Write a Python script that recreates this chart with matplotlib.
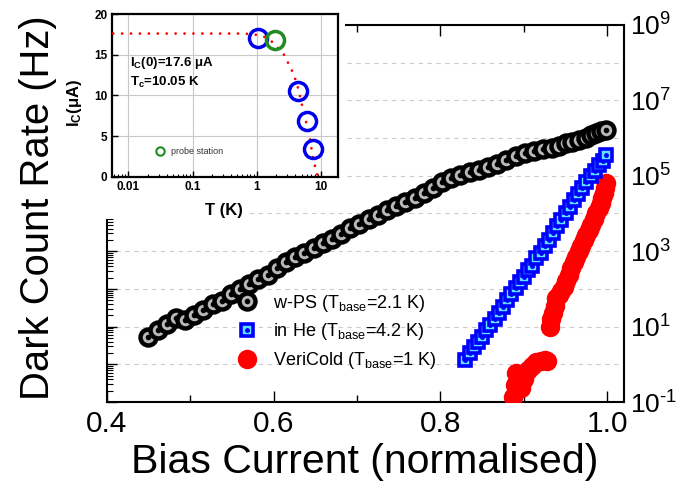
import numpy as np
import matplotlib
matplotlib.use('Agg')
import matplotlib.pyplot as plt
from matplotlib.ticker import FixedLocator, FuncFormatter, LogLocator, NullFormatter
from matplotlib.lines import Line2D
from matplotlib.legend_handler import HandlerTuple
from matplotlib.patches import Rectangle

plt.rcParams['font.family'] = ['Liberation Sans', 'DejaVu Sans']
plt.rcParams['mathtext.fontset'] = 'custom'
plt.rcParams['mathtext.rm'] = 'Liberation Sans'
plt.rcParams['mathtext.it'] = 'Liberation Sans:italic'
plt.rcParams['mathtext.bf'] = 'Liberation Sans:bold'
plt.rcParams['mathtext.default'] = 'regular'

# ---------------- data (main panel) ----------------
bias_wps = [0.450, 0.461, 0.472, 0.483, 0.494, 0.505, 0.516, 0.527, 0.538, 0.549,
            0.560, 0.571, 0.582, 0.593, 0.604, 0.615, 0.626, 0.637, 0.648, 0.659,
            0.670, 0.681, 0.692, 0.703, 0.714, 0.725, 0.736, 0.747, 0.758, 0.769,
            0.780, 0.791, 0.802, 0.813, 0.824, 0.835, 0.846, 0.857, 0.868, 0.879,
            0.890, 0.901, 0.912, 0.923, 0.934, 0.942, 0.950, 0.958, 0.966, 0.974,
            0.981, 0.987, 0.993, 0.998]
rate_wps = [5.2, 8.3, 12, 16.6, 15.1, 20, 28, 40, 48, 74,
            100, 135, 182, 240, 355, 525, 690, 890, 1200, 1620,
            2090, 2820, 4070, 5370, 7080, 9330, 1.23e4, 1.62e4, 2.04e4, 2.63e4,
            3.47e4, 4.79e4, 6.76e4, 8.51e4, 1.05e5, 1.23e5, 1.41e5, 1.70e5, 2.09e5, 2.63e5,
            3.31e5, 3.98e5, 4.57e5, 5.01e5, 5.50e5, 6.31e5, 7.24e5, 7.94e5, 8.71e5, 1.0e6,
            1.20e6, 1.38e6, 1.51e6, 1.62e6]

bias_he = [0.830, 0.835, 0.840, 0.845, 0.850, 0.855, 0.860, 0.865, 0.870, 0.875,
           0.880, 0.885, 0.890, 0.895, 0.900, 0.905, 0.910, 0.915, 0.920, 0.925,
           0.930, 0.935, 0.940, 0.945, 0.950, 0.955, 0.960, 0.965, 0.970, 0.975,
           0.980, 0.985, 0.990, 0.995, 0.998]
rate_he = [1.29, 2.0, 2.95, 3.98, 5.37, 7.94, 11.0, 15.8, 22.4, 33.1,
           51.3, 72.4, 105, 148, 209, 316, 417, 661, 912, 1380,
           2000, 2950, 4570, 6610, 1.0e4, 1.51e4, 2.29e4, 3.31e4, 4.79e4, 6.92e4,
           1.0e5, 1.32e5, 1.95e5, 2.51e5, 3.55e5]

bias_vc = [0.887, 0.889, 0.890, 0.893, 0.896, 0.900, 0.905, 0.910, 0.915, 0.920,
           0.925, 0.928, 0.931, 0.933, 0.935, 0.937, 0.939, 0.942, 0.945, 0.948,
           0.951, 0.954, 0.957, 0.960, 0.963, 0.966, 0.969, 0.972, 0.975, 0.978,
           0.981, 0.984, 0.987, 0.990, 0.992, 0.994, 0.996, 0.997, 0.998]
rate_vc = [0.138, 0.282, 0.603, 0.355, 0.24, 0.398, 0.708, 0.891, 1.12, 1.26,
           1.32, 1.20, 10, 15.8, 22.4, 35.5, 56.2, 70.8, 89.1, 112,
           158, 240, 355, 525, 708, 1000, 1410, 2000, 2630, 3550,
           5010, 7080, 1.0e4, 1.41e4, 1.91e4, 2.63e4, 3.55e4, 4.79e4, 6.31e4]

labels_main = ['w-PS (T$_{base}$=2.1 K)', 'in He (T$_{base}$=4.2 K)', 'VeriCold (T$_{base}$=1 K)']
xtick_vals = [0.4, 0.6, 0.8, 1.0]
xminor_vals = [0.5, 0.7, 0.9]
ytick_exps = list(range(-1, 10))

# ---------------- data (inset) ----------------
T_blue = [1.05, 4.47, 6.03, 7.5]
Ic_blue = [17.1, 10.5, 6.8, 3.4]
T_green = [1.93]
Ic_green = [16.8]
T_fit = [0.0058, 0.03, 0.1, 0.3, 0.6, 0.9, 1.2, 1.5, 1.78, 2.58, 3.52, 4.22, 4.75,
         5.29, 6.11, 6.8, 7.6, 8.85]
Ic_fit = [17.6, 17.6, 17.6, 17.6, 17.6, 17.5, 17.3, 17.0, 16.5, 15.2, 13.1, 11.5, 9.85,
          8.2, 6.2, 4.5, 2.1, 0.2]
inset_xticks = [0.01, 0.1, 1, 10]
inset_xticklabels = ['0.01', '0.1', '1', '10']
inset_yticks = [0, 5, 10, 15, 20]

W, H = 678, 488
fig = plt.figure(figsize=(W / 100, H / 100), dpi=100)

def fx(px):
    return px / W

def fy(py):
    return 1 - py / H

# ---------------- main axes ----------------
L, R, T, B = 106.6, 624, 25, 402
ax = fig.add_axes([fx(L), fy(B), (R - L) / W, (B - T) / H], zorder=0)
ax.set_yscale('log')
ax.set_xlim(0.4, 1.02)
ax.set_ylim(1e-1, 1e9)

ax.yaxis.set_major_locator(FixedLocator([10.0 ** e for e in ytick_exps]))
ax.yaxis.set_minor_locator(LogLocator(base=10, subs=np.arange(2, 10), numticks=100))
ax.yaxis.set_minor_formatter(NullFormatter())

def yfmt(v, pos):
    e = int(round(np.log10(v)))
    if e % 2 == 0:
        return ''
    if e < 0:
        return '$10^{\\text{-}%d}$' % (-e)
    return '$10^{%d}$' % e

ax.yaxis.set_major_formatter(FuncFormatter(yfmt))
ax.tick_params(axis='y', which='both', direction='in', left=True, right=False,
               labelleft=False, labelright=True, labelsize=19, pad=4)
ax.tick_params(axis='y', which='major', length=7, width=1)
ax.tick_params(axis='y', which='minor', length=4, width=0.8)

ax.xaxis.set_major_locator(FixedLocator(xtick_vals))
ax.xaxis.set_minor_locator(FixedLocator(xminor_vals))
ax.xaxis.set_major_formatter(FuncFormatter(lambda v, p: '%.1f' % v))
ax.tick_params(axis='x', which='both', direction='in', top=True, bottom=True,
               labelsize=21.5, pad=6)
ax.tick_params(axis='x', which='major', length=8, width=1)
ax.tick_params(axis='x', which='minor', length=5, width=1)

ax.yaxis.grid(True, which='major', linestyle=(0, (4, 4)), color='#cccccc', lw=0.8)
ax.set_axisbelow(True)
for s in ax.spines.values():
    s.set_linewidth(1.5)

# VeriCold
ax.plot(bias_vc, rate_vc, ls='none', marker='o', ms=14, color='#ff0000', mec='none', zorder=3)
# in He: square with centre dot, drawn point by point
for xv, yv in zip(bias_he, rate_he):
    ax.plot([xv], [yv], ls='none', marker='s', ms=9, mfc='#5ee3ff', mec='#0000ff', mew=2.6, zorder=4)
    ax.plot([xv], [yv], ls='none', marker='o', ms=2.5, color='#0000ff', zorder=4)
# w-PS: grey circle with centre dot
for xv, yv in zip(bias_wps, rate_wps):
    ax.plot([xv], [yv], ls='none', marker='o', ms=11.5, mfc='#b8b8b8', mec='#000000', mew=3.2, zorder=5)
    ax.plot([xv], [yv], ls='none', marker='o', ms=3, color='#000000', zorder=5)

h_wps = (Line2D([], [], ls='none', marker='o', ms=11.5, mfc='#b8b8b8', mec='k', mew=3.2),
         Line2D([], [], ls='none', marker='o', ms=3, color='k'))
h_he = (Line2D([], [], ls='none', marker='s', ms=9, mfc='#5ee3ff', mec='#0000ff', mew=2.6),
        Line2D([], [], ls='none', marker='o', ms=2.5, color='#0000ff'))
h_vc = Line2D([], [], ls='none', marker='o', ms=14, color='#ff0000', mec='none')
leg = ax.legend(handles=[h_wps, h_he, h_vc], labels=labels_main,
                handler_map={tuple: HandlerTuple(ndivide=1, pad=0)},
                loc='center left', bbox_to_anchor=(0.205, 0.186), frameon=False,
                fontsize=13, labelspacing=0.42, handlelength=2.0, handletextpad=0.45,
                borderpad=0.4, numpoints=1)
leg.set_zorder(6)

# white cover for inset region
fig.patches.append(Rectangle((fx(60), fy(205)), (345 - 60) / W, 205 / H,
                             transform=fig.transFigure, facecolor='white', edgecolor='none', zorder=1))
fig.patches.append(Rectangle((fx(95), fy(219)), (247 - 95) / W, 14 / H,
                             transform=fig.transFigure, facecolor='white', edgecolor='none', zorder=1))

fig.text(fx(38), fy(208), 'Dark Count Rate (Hz)', rotation=90, ha='center', va='center',
         fontsize=28.8, zorder=3)
fig.text(fx(365), fy(462), 'Bias Current (normalised)', ha='center', va='center',
         fontsize=29.5, zorder=3)

# ---------------- inset ----------------
iL, iR, iT, iB = 111.7, 338, 14, 176.7
axi = fig.add_axes([fx(iL), fy(iB), (iR - iL) / W, (iB - iT) / H], zorder=2)
axi.set_xscale('log')
axi.set_xlim(0.0055, 18.5)
axi.set_ylim(0, 20)
axi.set_xticks(inset_xticks)
axi.set_xticklabels(inset_xticklabels)
axi.xaxis.set_minor_locator(LogLocator(base=10, subs=np.arange(2, 10), numticks=100))
axi.xaxis.set_minor_formatter(NullFormatter())
axi.set_yticks(inset_yticks)
axi.tick_params(which='both', direction='in', labelsize=8.5, pad=3)
axi.tick_params(which='major', length=4, width=1)
axi.tick_params(which='minor', length=2.5, width=0.8)
for lbl in axi.get_xticklabels() + axi.get_yticklabels():
    lbl.set_fontweight('bold')
axi.grid(True, which='major', color='#c8c8c8', lw=0.8, ls='-')
axi.set_axisbelow(True)
for s in axi.spines.values():
    s.set_linewidth(1.6)

axi.plot(T_fit, Ic_fit, color='#ff0000', lw=2, ls=(0, (0.01, 3.2)), dash_capstyle='round', zorder=3)
axi.plot(T_blue, Ic_blue, ls='none', marker='o', ms=13, mfc='none', mec='#0000ee', mew=2.5, zorder=4)
axi.plot(T_green, Ic_green, ls='none', marker='o', ms=13, mfc='none', mec='#1e8c1e', mew=2.5, zorder=4)

axi.legend(handles=[Line2D([], [], ls='none', marker='o', ms=6, mfc='none', mec='#1e8c1e', mew=1.5)],
           labels=['probe station'], loc='center left', bbox_to_anchor=(0.156, 0.152),
           frameon=False, fontsize=6.5, handlelength=1.0, handletextpad=0.8, borderpad=0.4,
           labelcolor='#333333')

axi.text(0.081, 0.699, 'I$_\\mathbf{C}$(0)=17.6 μA', transform=axi.transAxes, ha='left', va='center',
         fontsize=9.5, fontweight='bold')
axi.text(0.081, 0.582, 'T$_\\mathbf{c}$=10.05 K', transform=axi.transAxes, ha='left', va='center',
         fontsize=9.5, fontweight='bold')

fig.text(fx(224), fy(210), 'T (K)', ha='center', va='center', fontsize=12, fontweight='bold', zorder=3)
fig.text(fx(75), fy(103), 'I$_\\mathbf{C}$(μA)', rotation=90, ha='center', va='center',
         fontsize=12, fontweight='bold', zorder=3)

fig.savefig('out.png', dpi=100)
